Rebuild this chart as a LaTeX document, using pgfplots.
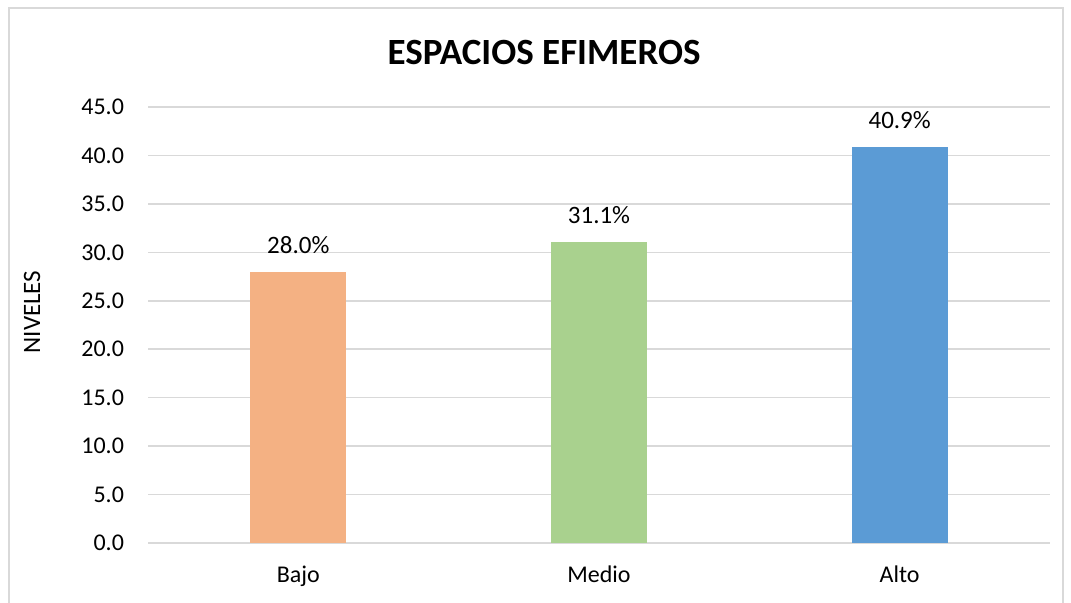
\documentclass[border=0pt]{standalone}
\usepackage{pgfplots}
\pgfplotsset{compat=1.18}
\usepackage{fontspec}
\setmainfont{Carlito}
\definecolor{cOr}{HTML}{F4B183}
\definecolor{cGr}{HTML}{A9D18E}
\definecolor{cBl}{HTML}{5B9BD5}
\definecolor{cGrid}{HTML}{D9D9D9}
\begin{document}
\begin{tikzpicture}
\useasboundingbox (0,0) rectangle (535.5pt,301pt);
\draw[cGrid, line width=1pt] (4.5pt,-5pt) -- (4.5pt,297pt) -- (531.5pt,297pt) -- (531.5pt,-5pt);
\node[font=\fontsize{18.5}{22}\selectfont\bfseries] at (272pt,275pt) {ESPACIOS EFIMEROS};
\begin{axis}[
  at={(74pt,29.5pt)}, anchor=south west,
  scale only axis, width=451pt, height=218pt,
  ymin=0, ymax=45, ytick={0,5,...,45},
  xmin=-0.5, xmax=2.5, xtick={0,1,2},
  xticklabels={Bajo,Medio,Alto},
  axis line style={draw=none},
  major tick length=0pt,
  ymajorgrids, grid style={cGrid, line width=0.8pt},
  ybar, bar width=48pt, bar shift=0pt,
  /pgf/number format/assume math mode=true,
  yticklabel style={/pgf/number format/fixed, /pgf/number format/fixed zerofill, /pgf/number format/precision=1, xshift=-8.5pt},
  tick label style={font=\fontsize{12}{14}\selectfont, black},
  xticklabel style={yshift=-8pt},
  ylabel={NIVELES},
  ylabel style={at={(axis description cs:-0.1286,0.53)}, anchor=center, font=\fontsize{12.5}{14}\selectfont},
  nodes near coords={\pgfmathprintnumber[fixed,fixed zerofill,precision=1,assume math mode=true]{\pgfplotspointmeta}\%},
  nodes near coords style={font=\fontsize{12.5}{14}\selectfont, black, yshift=5.3pt},
  clip=false,
]
\addplot[fill=cOr, draw=none] coordinates {(0,28.0)};
\addplot[fill=cGr, draw=none] coordinates {(1,31.1)};
\addplot[fill=cBl, draw=none] coordinates {(2,40.9)};
\end{axis}
\end{tikzpicture}
\end{document}
